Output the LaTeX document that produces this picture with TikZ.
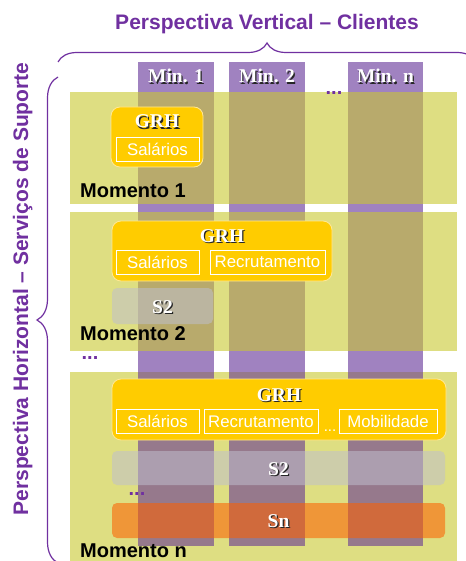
\documentclass[tikz,border=0pt]{standalone}
\usepackage{fontspec}
\setmainfont{Liberation Sans}
\newfontfamily\labelserif{Liberation Serif}
\usetikzlibrary{decorations.pathreplacing}

\definecolor{purp}{RGB}{112,48,160}
\definecolor{colpurple}{RGB}{160,130,192}
\definecolor{bandyellow}{RGB}{222,222,130}
\definecolor{olivemix}{RGB}{184,170,108}
\definecolor{mauvemix}{RGB}{150,121,140}
\definecolor{gold}{RGB}{255,204,0}
\definecolor{goldedge}{RGB}{255,232,150}
\definecolor{greybar}{RGB}{191,191,205}
\definecolor{orangebar}{RGB}{253,96,0}

% white serif lettering with a dark drop shadow
\newcommand{\emb}[1]{\makebox[0pt][l]{\kern1.3pt\raisebox{-1.3pt}{\textcolor{black!85}{#1}}}\textcolor{white}{#1}}

\begin{document}
\begin{tikzpicture}[x=1pt,y=-1pt,
  colbox/.style={fill=colpurple, draw=none, inner sep=0pt, minimum height=484pt},
  band/.style={fill=bandyellow, draw=none, inner sep=0pt, minimum width=387pt},
  grhbox/.style={fill=gold, draw=goldedge, line width=0.8pt, rounded corners=9pt, inner sep=0pt, minimum height=60pt},
  itembox/.style={draw=white, line width=0.8pt, inner sep=0pt, minimum height=24pt, text=white,
    font=\fontsize{16.8}{18}\selectfont},
  greybox/.style={fill=greybar, fill opacity=0.54, text opacity=1, rounded corners=5pt, inner sep=0pt},
  orangebox/.style={fill=orangebar, fill opacity=0.57, text opacity=1, rounded corners=5pt, inner sep=0pt},
  serlabel/.style={inner sep=0pt, anchor=base, font=\labelserif\bfseries\fontsize{19.5}{21}\selectfont},
  moment/.style={inner sep=0pt, anchor=base west, font=\bfseries\fontsize{20}{22}\selectfont},
  heading/.style={inner sep=0pt, anchor=base, text=purp, font=\bfseries\fontsize{21}{24}\selectfont},
  pdots/.style={inner sep=0pt, anchor=base, text=purp, font=\bfseries\fontsize{20}{22}\selectfont},
  curly/.style={draw=purp, line width=1.2pt, decorate},
]
\useasboundingbox (0,0) rectangle (465,561);
\fill[white] (0,0) rectangle (465,561);

% client columns
\node[colbox, minimum width=76pt] (c1) at (176,304) {};
\node[colbox, minimum width=76pt] (c2) at (267,304) {};
\node[colbox, minimum width=75pt] (cn) at (385.5,304) {};

% moments (horizontal bands)
\node[band, minimum height=112pt] (b1) at (263.5,148) {};
\node[band, minimum height=139pt] (b2) at (263.5,281.5) {};
\node[band, minimum height=189pt] (bn) at (263.5,466.5) {};

% columns seen through the bands
\foreach \c in {c1,c2,cn}{
  \fill[olivemix] (\c.west |- b1.north) rectangle (\c.east |- b1.south);
  \fill[olivemix] (\c.west |- b2.north) rectangle (\c.east |- b2.south);
  \fill[mauvemix] (\c.west |- bn.north) rectangle (\c.south east);
}

% column headings
\node[serlabel] (m1) at (176,83) {\emb{Min. 1}};
\node[serlabel] (m2) at (267,83) {\emb{Min. 2}};
\node[serlabel] (mn) at (385.5,83) {\emb{Min. n}};
\node[pdots] (hdots) at (334,95) {...};

% moment 1
\node[grhbox, minimum width=92pt] (g1) at (157,137) {};
\node[serlabel] (g1t) at (157,128) {\emb{GRH}};
\node[itembox, minimum width=83pt] (g1s) at (157.5,149.5) {Salários};
\node[moment] (mo1) at (80,197) {Momento 1};

% moment 2
\node[grhbox, minimum width=220pt] (g2) at (222,251) {};
\node[serlabel] (g2t) at (222,242) {\emb{GRH}};
\node[itembox, minimum width=83pt] (g2s) at (157.5,262) {Salários};
\node[itembox, minimum width=115pt] (g2r) at (267.5,262) {Recrutamento};
\node[greybox, minimum width=101pt, minimum height=36pt] (s2a) at (162.5,306) {};
\node[serlabel] (s2at) at (162.5,313) {\emb{S2}};
\node[moment] (mo2) at (80,340) {Momento 2};
\node[pdots] (gapdots) at (90,359) {...};

% moment n
\node[grhbox, minimum width=334pt, minimum height=61pt] (gn) at (279,409.5) {};
\node[serlabel] (gnt) at (279,401) {\emb{GRH}};
\node[itembox, minimum width=83pt] (gns) at (157.5,421.5) {Salários};
\node[itembox, minimum width=114pt] (gnr) at (261,421.5) {Recrutamento};
\node[inner sep=0pt, anchor=base, text=white, font=\fontsize{15}{16}\selectfont] (gnd) at (330,431) {...};
\node[itembox, minimum width=98pt] (gnm) at (388,421.5) {Mobilidade};
\node[greybox, minimum width=333pt, minimum height=34pt] (s2b) at (278.5,468) {};
\node[serlabel] (s2bt) at (278.5,475) {\emb{S2}};
\node[pdots] (sdots) at (137,495) {...};
\node[orangebox, minimum width=333pt, minimum height=35pt] (sn) at (278.5,520.5) {};
\node[serlabel] (snt) at (278.5,527) {\emb{Sn}};
\node[moment] (mon) at (80,557) {Momento n};

% perspectives
\coordinate (tbL) at (58,62);
\coordinate (tbR) at (476,62);
\draw[curly, decoration={brace, amplitude=19pt}] (tbL) -- (tbR);
\node[heading] (vtitle) at (267,30) {Perspectiva Vertical – Clientes};

\coordinate (lbB) at (58,563);
\coordinate (lbT) at (58,77);
\draw[curly, decoration={brace, amplitude=21pt}] (lbB) -- (lbT);
\node[heading, rotate=90] (htitle) at (28,289) {Perspectiva Horizontal – Serviços de Suporte};
\end{tikzpicture}
\end{document}
